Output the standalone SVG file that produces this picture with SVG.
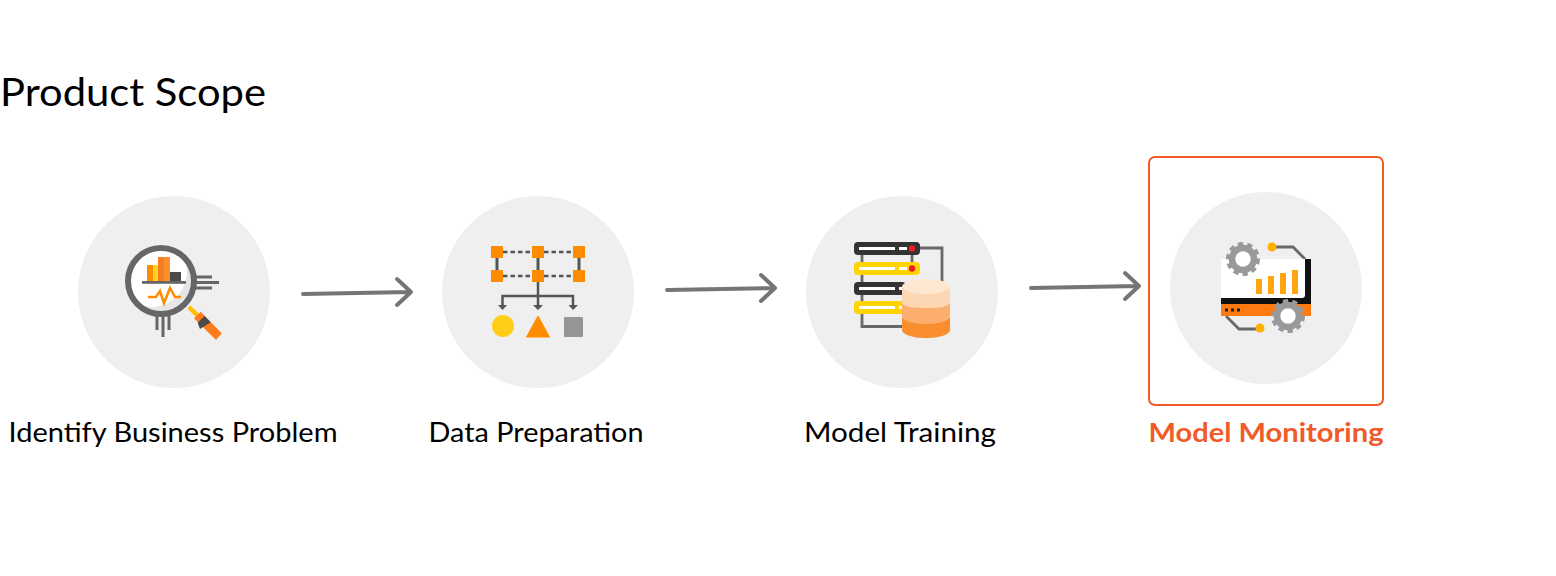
<svg xmlns="http://www.w3.org/2000/svg" width="1556" height="576" viewBox="0 0 1556 576">
<style>
text{font-family:"Lato","Noto Sans",sans-serif;fill:#000}
.label{font-size:27px;text-anchor:middle}
.disc{fill:#efefef}
.conn{fill:none;stroke:#757575;stroke-width:4;stroke-linecap:round;stroke-linejoin:round}
.o{fill:#ff8c00}
.dk{stroke:#555;stroke-width:2.500;fill:none}
.gl{fill:none;stroke:#686868;stroke-width:2.800}
.pill{fill:#fff}
.gt{fill:#fff;stroke:#999;stroke-width:6.500}
.gd{fill:none;stroke:#999;stroke-width:5;stroke-dasharray:5 4}
</style>
<defs>
<g id="gear"><circle r="14.500" class="gd"/><circle r="11" class="gt"/></g>
</defs>
<rect width="1556" height="576" fill="#fff"/>
<text x="0" y="106" font-size="39" textLength="266" lengthAdjust="spacingAndGlyphs">Product Scope</text>

<g id="connectors">
<path class="conn" d="M303 294L410 292M397 279L411 292L397 305"/>
<path class="conn" d="M667 290L774 288M761 275L775 288L761 301"/>
<path class="conn" d="M1031 288L1138 286M1125 273L1139 286L1125 299"/>
</g>

<g id="node-identify">
<circle class="disc" cx="174" cy="292" r="96"/>
<path d="M196 277H212M196 282.500H219M196 288H212" stroke="#666" stroke-width="3" fill="none"/>
<path d="M157 316V330M163 316V337M169 316V330" stroke="#666" stroke-width="3" fill="none"/>
<circle cx="161" cy="281" r="33" fill="#fff"/>
<path d="M184 258A33 33 0 0 1 161 314A33 33 0 0 1 138 304A35 35 0 0 0 184 258Z" fill="#e6e6e6"/>
<rect x="147" y="265" width="6" height="17" fill="#ff8c00"/>
<rect x="153" y="265" width="6" height="17" fill="#ffd21f"/>
<rect x="158" y="257" width="6" height="25" fill="#f57c1f"/>
<rect x="164" y="257" width="6" height="25" fill="#ff8f2e"/>
<rect x="170" y="272" width="11" height="10" fill="#4a4a4a"/>
<rect x="142" y="281" width="44" height="2.800" fill="#666"/>
<path d="M148 297H156L160 291L164 303L170 288L175 297H181" fill="none" stroke="#ff8c00" stroke-width="2.500"/>
<circle cx="161" cy="281" r="33" fill="none" stroke="#666" stroke-width="6"/>
<path d="M189 307L198 316" stroke="#ffc000" stroke-width="4.500"/>
<path d="M200.700 311.700L221.700 333.300L216 340L194 318.300Z" fill="#ff7a1a"/>
<path d="M204.500 316L210.700 322.300L200 329L197.700 322.700Z" fill="#4a4a4a"/>
</g>

<g id="node-data">
<circle class="disc" cx="538" cy="292" r="96"/>
<path d="M503 252H532M544 252H573M503 276H532M544 276H573" stroke="#555" stroke-width="2.500" stroke-dasharray="4.500 3"/>
<path d="M497 258V270M538 258V270M579 258V270" stroke="#555" stroke-width="3"/>
<path d="M538 282V306M502.500 306V296H573V306" class="dk"/>
<path d="M498 305H507L502.500 310ZM533 305H543L538 310ZM568.500 305H578L573 310Z" fill="#555"/>
<g class="o">
<rect x="491" y="246" width="12" height="12"/><rect x="532" y="246" width="12" height="12"/><rect x="573" y="246" width="12" height="12"/>
<rect x="491" y="270" width="12" height="12"/><rect x="532" y="270" width="12" height="12"/><rect x="573" y="270" width="12" height="12"/>
</g>
<circle cx="503" cy="326" r="11" fill="#ffcd17"/>
<path d="M538 316L549.500 337H526.500Z" fill="#ff8c00" stroke="#ff8c00" stroke-width="1" stroke-linejoin="round"/>
<rect x="564" y="317" width="19" height="20" rx="1" fill="#959595"/>
</g>

<g id="node-training">
<circle class="disc" cx="902" cy="292" r="96"/>
<path d="M862 250V326.500H912M912 250V270M920 248H942V285" class="gl"/>
<rect x="854" y="242" width="66" height="13" rx="4" fill="#333"/>
<rect x="854" y="262" width="66" height="13" rx="4" fill="#ffd400"/>
<rect x="854" y="282" width="52" height="13" rx="4" fill="#333"/>
<rect x="854" y="301" width="52" height="13" rx="4" fill="#ffd400"/>
<g class="pill">
<rect x="859" y="247" width="36" height="3"/><rect x="899" y="247" width="8" height="3"/>
<rect x="859" y="267" width="36" height="3"/><rect x="899" y="267" width="8" height="3"/>
<rect x="859" y="287" width="36" height="3"/><rect x="899" y="287" width="4" height="3"/>
<rect x="859" y="306" width="36" height="3"/><rect x="899" y="306" width="4" height="3"/>
</g>
<circle cx="912" cy="248.500" r="3.200" fill="#ee1c25"/>
<circle cx="912" cy="268.500" r="3.200" fill="#ee1c25"/>
<path d="M902 318V330C902 335 914 338 926 338C938 338 950 335 950 330V318Z" fill="#f98e2f"/>
<path d="M902 302V316C902 321 914 324 926 324C938 324 950 321 950 316V302Z" fill="#fbae6e"/>
<path d="M902 287V302C902 307 914 308 926 308C938 308 950 307 950 302V287Z" fill="#fdd6b3"/>
<ellipse cx="926" cy="286.500" rx="24" ry="7.500" fill="#fde7d1"/>
</g>

<g id="node-monitoring">
<circle class="disc" cx="1266" cy="288" r="96"/>
<rect x="1149" y="157" width="234" height="248" rx="6" fill="none" stroke="#f15a29" stroke-width="2"/>
<path d="M1272 247H1293L1305 259M1226 316L1239 329H1260" class="gl"/>
<circle cx="1272" cy="247" r="4.500" fill="#ffb000"/>
<circle cx="1260" cy="328" r="4.500" fill="#ffb000"/>
<rect x="1221" y="259" width="90" height="46" fill="#111"/>
<path d="M1221 259H1305V295Q1305 298 1302 298H1221Z" fill="#fff"/>
<rect x="1221" y="304" width="90" height="12" fill="#ff7a10"/>
<path d="M1225 310H1228M1231 310H1234M1237 310H1240" stroke="#222" stroke-width="3"/>
<g fill="#ffa50f">
<rect x="1256" y="279" width="6" height="15"/><rect x="1268" y="276" width="6" height="18"/>
<rect x="1280" y="273" width="6" height="21"/><rect x="1292" y="270" width="6" height="24"/>
</g>
<use href="#gear" x="1243" y="259"/>
<use href="#gear" x="1288" y="316"/>
</g>

<text class="label" x="173" y="442" textLength="329" lengthAdjust="spacingAndGlyphs">Identify Business Problem</text>
<text class="label" x="536" y="442" textLength="215" lengthAdjust="spacingAndGlyphs">Data Preparation</text>
<text class="label" x="900" y="442" textLength="192" lengthAdjust="spacingAndGlyphs">Model Training</text>
<text class="label" x="1266" y="442" textLength="235" lengthAdjust="spacingAndGlyphs" style="fill:#f15a29;font-weight:700">Model Monitoring</text>
</svg>
